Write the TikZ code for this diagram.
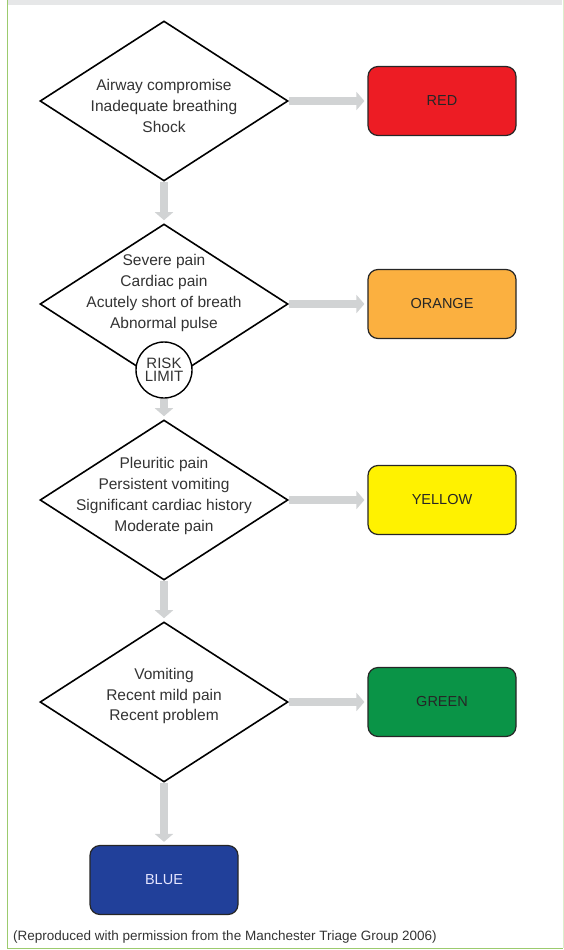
\documentclass[tikz,border=0pt]{standalone}
\usepackage{fontspec}
\setmainfont{Liberation Sans}
\usetikzlibrary{arrows.meta, shapes.geometric, backgrounds}

\definecolor{triageRed}{HTML}{ED1C24}
\definecolor{triageOrange}{HTML}{FBB040}
\definecolor{triageYellow}{HTML}{FFF200}
\definecolor{triageGreen}{HTML}{0A9447}
\definecolor{triageBlue}{HTML}{21409A}
\definecolor{arrowGrey}{HTML}{D1D3D4}
\definecolor{frameGreen}{HTML}{9CCB6E}
\definecolor{bandGrey}{HTML}{E6E7E8}
\definecolor{textGrey}{HTML}{333333}

\tikzset{
    decision/.style={diamond, draw=black, line width=1.6pt, fill=white,
        minimum width=248pt, minimum height=160pt, inner sep=0pt},
    condtext/.style={align=center, text=textGrey, inner sep=0pt,
        font=\fontsize{15.5}{20.7}\selectfont},
    category/.style={rectangle, rounded corners=10pt, draw=black!85, line width=1.2pt,
        minimum width=148pt, minimum height=69pt, font=\fontsize{14.5}{16}\selectfont},
    flow/.style={arrowGrey, line width=8pt, -{Triangle[width=18pt, length=8pt]}, shorten >=3pt},
}

\begin{document}
\begin{tikzpicture}[x=1pt, y=-1pt]
        \useasboundingbox (0,0) rectangle (564,950);

        % frame
        \fill [bandGrey] (8,0) rectangle (562,4.7);
        \draw [frameGreen!35, line width=1pt] (563,0) -- (563,948.3);
        \draw [frameGreen, line width=1.5pt] (7.3,0) -- (7.3,948.3) -- (563,948.3);

        % questions
        \node[decision] (d1) at (164,101) {};
        \node[condtext] (t1) at (164,106) {Airway compromise\\Inadequate breathing\\Shock};

        \node[decision] (d2) at (164,304) {};
        \node[condtext] (t2) at (164,293) {Severe pain\\Cardiac pain\\Acutely short of breath\\Abnormal pulse};
        \node[circle, draw=black, line width=1.4pt, fill=white, minimum size=56pt, inner sep=0pt,
            align=center, text=textGrey, font=\fontsize{15}{13.5}\selectfont] (risk) at (164,370) {RISK\\LIMIT};

        \node[decision] (d3) at (164,500) {};
        \node[condtext] (t3) at (164,496) {Pleuritic pain\\Persistent vomiting\\Significant cardiac history\\Moderate pain};

        \node[decision] (d4) at (164,702) {};
        \node[condtext] (t4) at (164,696) {Vomiting\\Recent mild pain\\Recent problem};

        % categories
        \node[category, fill=triageRed, text=black!85] (red) at (442,101) {RED};
        \node[category, fill=triageOrange, text=black!85] (orange) at (442,304) {ORANGE};
        \node[category, fill=triageYellow, text=black!85] (yellow) at (442,500) {YELLOW};
        \node[category, fill=triageGreen, text=black!85] (green) at (442,702) {GREEN};
        \node[category, fill=triageBlue, text=white!90!blue] (blue) at (164,880) {BLUE};

        \begin{scope}[on background layer]
            \draw [flow] (d1.south) -- (d2.north);
            \draw [flow] (risk.south) -- (d3.north);
            \draw [flow] (d3.south) -- (d4.north);
            \draw [flow] (d4.south) -- (blue.north);
            \draw [flow] (d1.east) -- (red.west);
            \draw [flow] (d2.east) -- (orange.west);
            \draw [flow] (d3.east) -- (yellow.west);
            \draw [flow] (d4.east) -- (green.west);
        \end{scope}

        \node[anchor=west, inner sep=0pt, text=textGrey, font=\fontsize{13.5}{16}\selectfont] (source) at (13,937)
            {(Reproduced with permission from the Manchester Triage Group 2006)};
    \end{tikzpicture}
\end{document}
